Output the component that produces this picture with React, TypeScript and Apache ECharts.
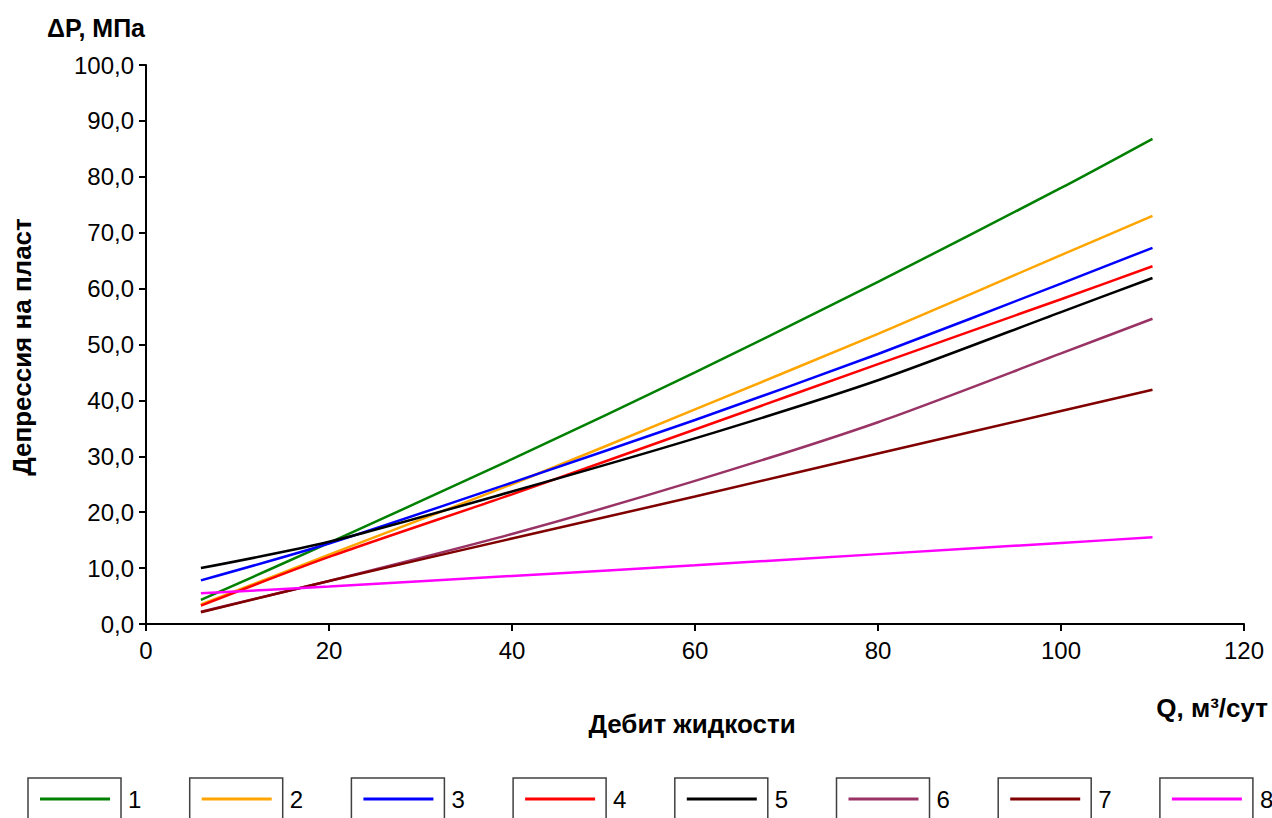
import React, { useEffect, useRef } from "react";
import * as echarts from "echarts";

const xValues = [6, 20, 40, 60, 80, 100, 110];
const seriesNames = ["1", "2", "3", "4", "5", "6", "7", "8"];
const s1 = [4.3, 14.5, 29.5, 45.0, 61.2, 78.0, 86.8];
const s2 = [3.5, 12.4, 25.0, 38.4, 51.9, 66.0, 73.0];
const s3 = [7.8, 14.4, 25.3, 36.5, 48.3, 60.9, 67.3];
const s4 = [3.3, 12.0, 23.2, 34.8, 46.5, 58.1, 64.0];
const s5 = [10.0, 14.7, 23.7, 33.2, 43.6, 55.8, 61.9];
const s6 = [2.2, 7.7, 16.1, 25.6, 36.1, 48.4, 54.6];
const s7 = [2.1, 7.7, 15.3, 22.8, 30.5, 38.1, 41.9];
const s8 = [5.5, 6.7, 8.6, 10.5, 12.5, 14.5, 15.5];
const seriesValues = [s1, s2, s3, s4, s5, s6, s7, s8];
const colors = ["#008000", "#FFA500", "#0000FF", "#FF0000", "#000000", "#993366", "#800000", "#FF00FF"];

const yTitle = "ΔP, МПа";
const yAxisName = "Депрессия на пласт";
const xAxisName = "Дебит жидкости";
const xUnit = "Q, м³/сут";

const FONT = "'Liberation Sans', Arial, sans-serif";

export default function App() {
  const ref = useRef<HTMLDivElement>(null);
  useEffect(() => {
    if (!ref.current) return;
    const chart = echarts.init(ref.current, null, { renderer: "svg" });
    const legendLeft0 = 40;
    const legendStep = 161.7;
    const option: any = {
      animation: false,
      backgroundColor: "#ffffff",
      grid: { left: 146, top: 65, width: 1098, height: 559, containLabel: false },
      xAxis: {
        type: "value",
        min: 0,
        max: 120,
        interval: 20,
        splitLine: { show: false },
        axisLine: { lineStyle: { color: "#000", width: 2 } },
        axisTick: { length: 7, lineStyle: { color: "#000", width: 2 } },
        axisLabel: { color: "#000", fontSize: 24, fontFamily: FONT, margin: 14 },
      },
      yAxis: {
        type: "value",
        min: 0,
        max: 100,
        interval: 10,
        splitLine: { show: false },
        axisLine: { show: true, lineStyle: { color: "#000", width: 2 } },
        axisTick: { show: true, length: 7, lineStyle: { color: "#000", width: 2 } },
        axisLabel: {
          color: "#000",
          fontSize: 24,
          fontFamily: FONT,
          margin: 12,
          formatter: (v: number) => v.toFixed(1).replace(".", ","),
        },
      },
      legend: seriesNames.map((n, i) => ({
        data: [n],
        left: legendLeft0 + i * legendStep,
        top: 787,
        itemWidth: 70,
        itemHeight: 3,
        icon: "rect",
        padding: 0,
        textStyle: { color: "#000", fontSize: 24, fontFamily: FONT, padding: [0, 0, 0, 13] },
      })),
      graphic: [
        ...seriesNames.map((n, i) => ({
          type: "rect",
          shape: { x: 28 + i * legendStep, y: 778, width: 93, height: 60 },
          style: { fill: "none", stroke: "#404040", lineWidth: 1.5 },
          silent: true,
        })),
        {
          type: "text",
          x: 47,
          y: 28,
          style: { text: yTitle, font: `bold 25px ${FONT}`, fill: "#000", textAlign: "left", textVerticalAlign: "middle" },
        },
        {
          type: "text",
          x: 22,
          y: 347,
          rotation: Math.PI / 2,
          style: { text: yAxisName, font: `bold 26px ${FONT}`, fill: "#000", textAlign: "center", textVerticalAlign: "middle" },
        },
        {
          type: "text",
          x: 692,
          y: 724,
          style: { text: xAxisName, font: `bold 26px ${FONT}`, fill: "#000", textAlign: "center", textVerticalAlign: "middle" },
        },
        {
          type: "text",
          x: 1268,
          y: 708,
          style: { text: xUnit, font: `bold 26px ${FONT}`, fill: "#000", textAlign: "right", textVerticalAlign: "middle" },
        },
      ],
      series: seriesNames.map((n, i) => ({
        name: n,
        type: "line",
        data: xValues.map((x, j) => [x, seriesValues[i][j]]),
        smooth: 0.25,
        showSymbol: false,
        symbol: "none",
        lineStyle: { color: colors[i], width: 2.5 },
        itemStyle: { color: colors[i] },
      })),
    };
    chart.setOption(option);
    return () => chart.dispose();
  }, []);
  return <div ref={ref} style={{ position: "fixed", left: 0, top: 0, width: 1272, height: 818 }} />;
}
